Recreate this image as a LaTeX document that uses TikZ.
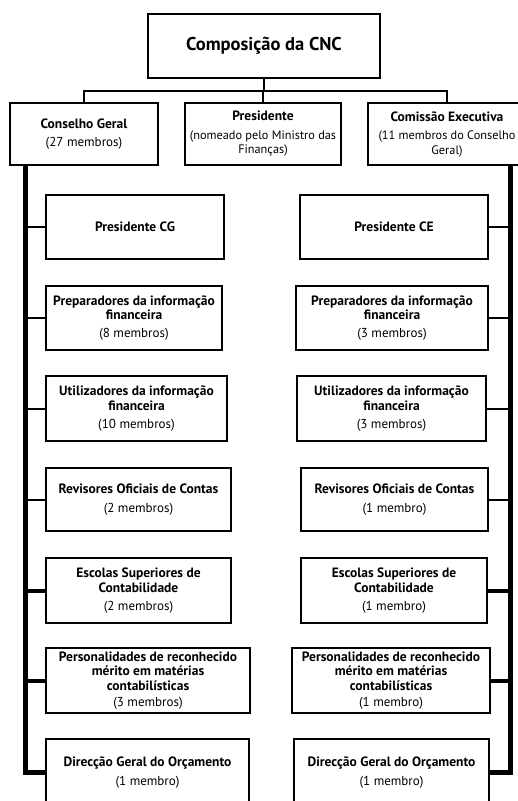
\documentclass[tikz,border=0pt]{standalone}
\usepackage{fontspec}
\setmainfont{PT Sans}
\newcommand{\bt}[1]{{\fontsize{13.5}{14.5}\selectfont\bfseries #1}}
\begin{document}
\begin{tikzpicture}[x=1pt,y=-1pt,
  box/.style={draw, line width=2.2pt, inner sep=0pt, align=center, font=\fontsize{13}{14.5}\selectfont},
  conn/.style={line width=2pt},
  thickconn/.style={line width=4pt},
  trunk/.style={line width=5pt, line join=miter}]
\useasboundingbox (0,0) rectangle (518,801);
\clip (0,0) rectangle (518,801);
\fill[white] (0,0) rectangle (518,801);
% top level
\node[box, minimum width=232pt, minimum height=64pt, font=\fontsize{18.5}{20}\selectfont\bfseries] (top) at (264,46) {Composição da CNC};
\node[box, minimum width=148pt, minimum height=62pt] (cg) at (84,134) {\bt{Conselho Geral}\\[4pt](27 membros)};
\node[box, minimum width=156pt, minimum height=62pt, font=\fontsize{12.3}{14.5}\selectfont] (pres) at (263,134) {\bt{Presidente}\\[4pt](nomeado pelo Ministro das\\Finanças)};
\node[box, minimum width=158pt, minimum height=62pt, font=\fontsize{12.3}{14.5}\selectfont] (ce) at (447,134) {\bt{Comissão Executiva}\\[4pt](11 membros do Conselho\\Geral)};
\coordinate (j) at (264,91);
\draw[conn] (top.south) -- (j);
\draw[conn] (cg.north) |- (j) -| (ce.north);
\draw[conn] (pres.north) -- (pres.north |- j);
% left column
\node[box, minimum width=178pt, minimum height=64pt] (lpc) at (135,227) {\bt{Presidente CG}};
\node[box, minimum width=176pt, minimum height=64pt] (lprep) at (134,318) {\bt{Preparadores da informação}\\\bt{financeira}\\[3.5pt](8 membros)};
\node[box, minimum width=181pt, minimum height=65pt] (lutil) at (136.5,408.5) {\bt{Utilizadores da informação}\\\bt{financeira}\\[3.5pt](10 membros)};
\node[box, minimum width=185pt, minimum height=63pt] (lrev) at (138.5,499.5) {\bt{Revisores Oficiais de Contas}\\[4pt](2 membros)};
\node[box, minimum width=185pt, minimum height=65pt] (lesc) at (138.5,590.5) {\bt{Escolas Superiores de}\\\bt{Contabilidade}\\[3.5pt](2 membros)};
\node[box, minimum width=204pt, minimum height=65pt] (lpers) at (148,680.5) {\bt{Personalidades de reconhecido}\\\bt{mérito em matérias}\\\bt{contabilísticas}\\[2pt](3 membros)};
\node[box, minimum width=203pt, minimum height=67pt] (ldir) at (147.5,772.5) {\bt{Direcção Geral do Orçamento}\\[4pt](1 membro)};
% right column
\node[box, minimum width=188pt, minimum height=64pt] (rpc) at (394,227) {\bt{Presidente CE}};
\node[box, minimum width=192pt, minimum height=64pt] (rprep) at (392,318) {\bt{Preparadores da informação}\\\bt{financeira}\\[3.5pt](3 membros)};
\node[box, minimum width=189pt, minimum height=65pt] (rutil) at (391.5,408.5) {\bt{Utilizadores da informação}\\\bt{financeira}\\[3.5pt](3 membros)};
\node[box, minimum width=187pt, minimum height=63pt] (rrev) at (394.5,499.5) {\bt{Revisores Oficiais de Contas}\\[4pt](1 membro)};
\node[box, minimum width=186pt, minimum height=65pt] (resc) at (394,590.5) {\bt{Escolas Superiores de}\\\bt{Contabilidade}\\[3.5pt](1 membro)};
\node[box, minimum width=198pt, minimum height=65pt] (rpers) at (391,680.5) {\bt{Personalidades de reconhecido}\\\bt{mérito em matérias}\\\bt{contabilísticas}\\[2pt](1 membro)};
\node[box, minimum width=195pt, minimum height=67pt] (rdir) at (391.5,772.5) {\bt{Direcção Geral do Orçamento}\\[4pt](1 membro)};
% trunks
\coordinate (lt) at (25,165);
\coordinate (rt) at (510,165);
\draw[trunk] (lt) |- (ldir.west);
\draw[trunk] (rt) |- (rdir.east);
\foreach \n in {lpc,lprep,lutil,lrev} \draw[conn] (\n.west) -- (\n.west -| lt);
\foreach \n in {lesc,lpers} \draw[thickconn] (\n.west) -- (\n.west -| lt);
\foreach \n in {rpc,rprep,rutil,rrev} \draw[conn] (\n.east) -- (\n.east -| rt);
\foreach \n in {resc,rpers} \draw[thickconn] (\n.east) -- (\n.east -| rt);
\end{tikzpicture}
\end{document}
